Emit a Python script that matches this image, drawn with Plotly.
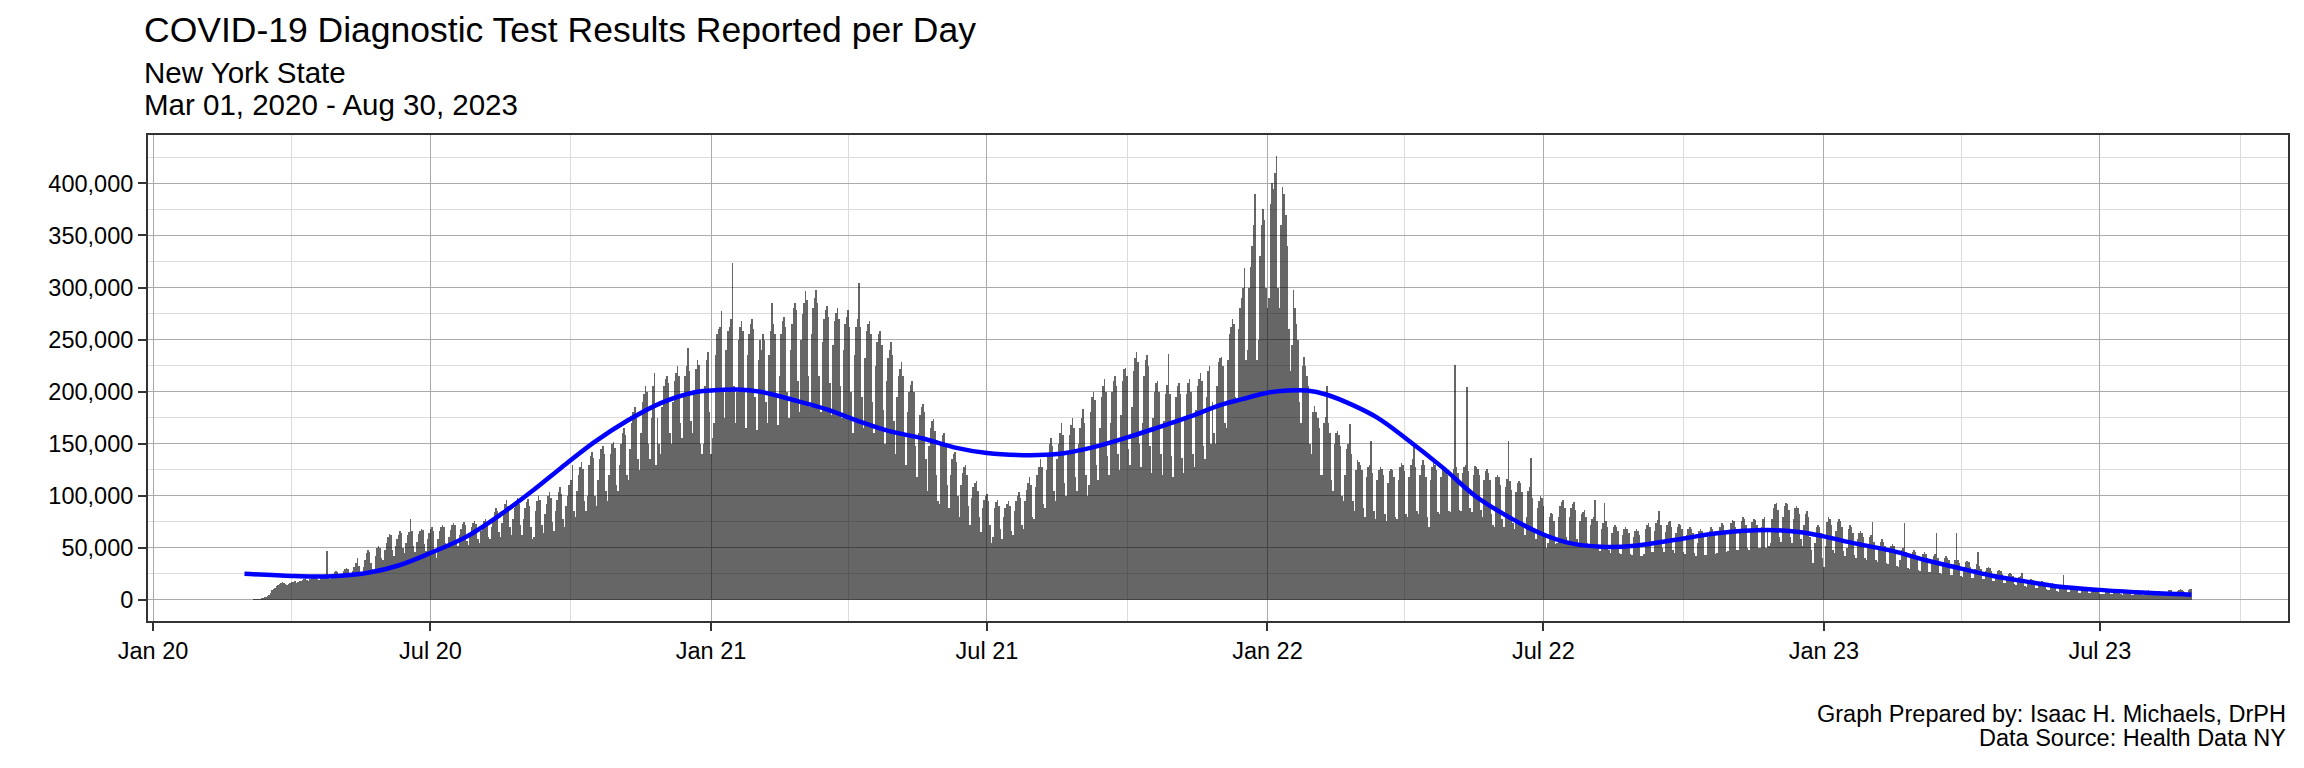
import pandas as pd
import plotly.graph_objects as go

# Daily diagnostic test results (thousands), one row per week starting Sunday Mar 01, 2020
tests_k = [
    0, 0, 0.1, 0.1, 0.2, 0.3, 0.4,
    0.5, 0.7, 0.8, 1.0, 1.5, 2, 2.5,
    3, 4, 5, 7, 9, 10, 11,
    13, 14, 15, 16, 17, 16, 15,
    14, 15, 16, 17, 17, 18, 16,
    17, 18, 18, 19, 20, 21, 19,
    18, 20, 21, 22, 23, 22, 20,
    19, 21, 22, 24, 25, 47, 21,
    20, 23, 25, 27, 28, 27, 22,
    21, 25, 28, 30, 31, 30, 24,
    23, 28, 32, 35, 40, 33, 26,
    26, 32, 38, 45, 48, 46, 35,
    30, 28, 42, 50, 52, 50, 40,
    38, 48, 55, 60, 63, 62, 48,
    42, 52, 58, 62, 66, 64, 50,
    45, 55, 62, 65, 78, 66, 52,
    46, 56, 63, 66, 68, 67, 54,
    47, 58, 64, 68, 70, 66, 45,
    40, 58, 66, 70, 72, 70, 55,
    50, 60, 67, 72, 74, 72, 56,
    52, 62, 68, 73, 75, 72, 57,
    53, 64, 70, 74, 76, 73, 58,
    55, 66, 72, 76, 78, 75, 60,
    58, 70, 78, 84, 88, 85, 65,
    60, 74, 85, 92, 96, 90, 70,
    62, 78, 88, 95, 98, 92, 72,
    62, 78, 88, 94, 97, 90, 70,
    58, 60, 85, 95, 100, 96, 72,
    64, 82, 92, 100, 104, 98, 75,
    66, 85, 96, 104, 108, 102, 78,
    70, 90, 100, 110, 115, 130, 85,
    80, 105, 120, 128, 132, 126, 95,
    85, 100, 130, 138, 142, 136, 100,
    90, 115, 135, 145, 148, 140, 105,
    95, 120, 140, 150, 152, 146, 110,
    105, 130, 150, 160, 165, 158, 120,
    115, 145, 170, 180, 185, 178, 135,
    125, 160, 190, 198, 205, 200, 150,
    135, 175, 205, 218, 130, 175, 150,
    140, 185, 205, 212, 215, 208, 160,
    150, 190, 210, 218, 225, 215, 170,
    155, 195, 215, 225, 242, 220, 172,
    160, 200, 222, 230, 226, 150, 140,
    150, 205, 230, 238, 180, 140, 155,
    170, 235, 255, 260, 262, 277, 200,
    175, 240, 258, 262, 270, 324, 205,
    170, 200, 250, 262, 268, 258, 200,
    165, 235, 255, 265, 270, 260, 195,
    163, 230, 250, 240, 255, 250, 190,
    170, 235, 258, 285, 265, 255, 195,
    168, 215, 255, 268, 272, 262, 200,
    175, 240, 265, 280, 285, 278, 210,
    180, 250, 275, 285, 297, 288, 215,
    185, 255, 280, 290, 298, 285, 215,
    180, 248, 270, 278, 282, 272, 208,
    178, 245, 268, 276, 280, 270, 205,
    175, 240, 265, 272, 278, 262, 200,
    160, 235, 262, 270, 304, 262, 195,
    165, 232, 258, 265, 268, 255, 190,
    160, 225, 248, 255, 258, 245, 182,
    150, 210, 232, 240, 248, 235, 172,
    140, 195, 215, 222, 228, 215, 160,
    130, 180, 200, 206, 210, 200, 148,
    118, 160, 178, 185, 188, 180, 135,
    105, 148, 165, 172, 174, 162, 120,
    95, 92, 150, 158, 160, 150, 110,
    88, 120, 135, 140, 142, 132, 100,
    80, 110, 122, 128, 130, 120, 90,
    72, 98, 108, 112, 114, 105, 80,
    65, 88, 96, 100, 102, 95, 72,
    55, 60, 88, 94, 96, 90, 68,
    58, 80, 88, 92, 95, 90, 66,
    62, 85, 95, 100, 104, 98, 72,
    68, 95, 106, 112, 118, 110, 80,
    78, 108, 120, 128, 135, 128, 92,
    88, 125, 140, 150, 155, 148, 105,
    95, 135, 150, 160, 170, 158, 112,
    100, 140, 158, 168, 175, 165, 118,
    105, 150, 165, 175, 183, 170, 120,
    100, 110, 180, 195, 200, 192, 130,
    115, 165, 195, 205, 212, 200, 138,
    120, 170, 200, 210, 215, 205, 140,
    125, 178, 210, 222, 223, 215, 145,
    130, 185, 220, 232, 238, 228, 150,
    128, 170, 215, 230, 235, 225, 148,
    122, 175, 200, 208, 210, 200, 140,
    120, 172, 198, 206, 236, 198, 138,
    118, 170, 195, 205, 208, 198, 136,
    122, 175, 198, 208, 212, 200, 140,
    128, 182, 205, 212, 218, 210, 148,
    135, 195, 220, 225, 150, 190, 160,
    150, 205, 228, 232, 233, 225, 170,
    165, 230, 255, 262, 270, 265, 195,
    190, 260, 280, 290, 300, 319, 230,
    240, 300, 320, 340, 360, 390, 230,
    250, 330, 360, 375, 365, 300, 280,
    290, 380, 400, 395, 410, 426, 300,
    280, 360, 397, 390, 370, 340, 260,
    220, 245, 298, 280, 265, 250, 190,
    170, 225, 233, 225, 215, 205, 150,
    140, 180, 186, 180, 175, 165, 120,
    120, 170, 176, 205, 170, 160, 115,
    105, 150, 160, 162, 158, 148, 100,
    95, 120, 145, 150, 169, 140, 95,
    85, 125, 134, 132, 130, 125, 88,
    80, 118, 128, 130, 153, 122, 85,
    78, 115, 125, 128, 126, 120, 82,
    76, 112, 124, 126, 125, 118, 80,
    78, 115, 128, 131, 130, 124, 82,
    80, 118, 130, 135, 147, 128, 85,
    82, 120, 130, 134, 130, 118, 80,
    70, 115, 128, 132, 130, 125, 84,
    82, 118, 125, 128, 126, 120, 85,
    84, 120, 126, 226, 128, 122, 86,
    85, 122, 128, 130, 204, 124, 88,
    84, 120, 129, 128, 126, 120, 86,
    80, 115, 124, 126, 122, 115, 82,
    72, 70, 118, 120, 118, 110, 78,
    70, 108, 116, 153, 114, 106, 74,
    68, 104, 112, 114, 112, 104, 72,
    62, 80, 105, 108, 136, 98, 68,
    58, 88, 95, 100, 98, 90, 62,
    50, 55, 80, 83, 82, 76, 54,
    55, 80, 90, 94, 96, 88, 60,
    56, 80, 88, 92, 94, 86, 58,
    52, 76, 82, 84, 86, 80, 55,
    50, 72, 78, 80, 96, 76, 52,
    47, 68, 74, 93, 76, 70, 48,
    45, 64, 70, 72, 70, 66, 45,
    44, 62, 68, 70, 68, 64, 44,
    43, 60, 66, 68, 66, 62, 42,
    42, 44, 68, 72, 74, 70, 46,
    46, 66, 74, 77, 85, 72, 50,
    46, 65, 72, 75, 76, 70, 48,
    45, 64, 70, 73, 72, 68, 46,
    44, 62, 68, 70, 68, 64, 45,
    42, 55, 66, 68, 66, 62, 43,
    43, 60, 66, 70, 68, 63, 44,
    45, 64, 70, 74, 72, 66, 46,
    47, 66, 74, 77, 76, 70, 48,
    48, 68, 76, 80, 78, 72, 50,
    48, 68, 75, 78, 77, 72, 50,
    50, 70, 78, 80, 50, 65, 52,
    55, 78, 88, 92, 93, 86, 60,
    56, 80, 90, 93, 92, 86, 60,
    55, 78, 88, 90, 88, 82, 58,
    52, 72, 82, 85, 80, 60, 48,
    35, 55, 70, 72, 70, 64, 40,
    32, 52, 75, 80, 78, 72, 48,
    45, 66, 75, 78, 76, 70, 47,
    42, 50, 68, 72, 70, 64, 43,
    40, 58, 64, 66, 64, 60, 40,
    38, 54, 60, 62, 75, 56, 38,
    36, 50, 56, 58, 56, 52, 35,
    34, 46, 52, 54, 52, 48, 33,
    32, 38, 48, 50, 74, 46, 31,
    30, 42, 46, 48, 46, 42, 29,
    28, 40, 44, 46, 44, 40, 27,
    27, 38, 42, 44, 64, 40, 26,
    25, 36, 40, 42, 40, 38, 24,
    24, 34, 38, 64, 38, 35, 23,
    22, 32, 36, 37, 36, 32, 21,
    21, 30, 34, 46, 33, 30, 20,
    20, 28, 31, 32, 31, 28, 18,
    18, 25, 28, 29, 28, 25, 16,
    16, 22, 25, 26, 25, 23, 15,
    14, 20, 22, 23, 26, 20, 13,
    12, 17, 19, 20, 19, 17, 11,
    11, 15, 17, 18, 17, 15, 10,
    9, 9, 15, 16, 15, 13, 8.5,
    8, 13, 14, 24, 14, 12, 7.5,
    7.5, 12, 13, 13.5, 13, 11, 7,
    7, 9, 11, 12, 11.5, 10, 6.5,
    6.5, 10, 11, 11, 10.5, 9.5, 6,
    5.5, 6, 6, 9, 10, 9, 5.5,
    5.5, 8.5, 9.5, 10, 9.5, 8.5, 5.5,
    5, 8, 9, 9.5, 9, 8, 5,
    5, 8, 8.5, 9, 8.5, 7.5, 5,
    5, 7.5, 8.5, 9, 8.5, 7.5, 4.8,
    4.8, 7.5, 8, 8.5, 8, 7.5, 4.8,
    5, 8, 9, 9.5, 9, 8, 5,
    5, 8.5, 9.5, 10, 9.5, 8.5, 5.5,
    5.5, 9, 10, 10.5,
]
start_date = "2020-03-01"

# Smoothed trend (thousands)
smooth_dates = [
    "2020-03-01", "2020-04-01", "2020-04-15", "2020-05-01", "2020-05-21", "2020-06-10",
    "2020-07-01", "2020-07-25", "2020-08-17", "2020-09-07", "2020-09-24", "2020-10-16",
    "2020-11-07", "2020-11-29", "2020-12-20", "2021-01-01", "2021-01-18", "2021-02-02",
    "2021-02-24", "2021-03-18", "2021-04-09", "2021-04-28", "2021-05-20", "2021-06-11",
    "2021-07-01", "2021-07-25", "2021-08-16", "2021-09-07", "2021-10-01", "2021-10-20",
    "2021-11-11", "2021-12-01", "2021-12-16", "2022-01-01", "2022-01-14", "2022-01-27",
    "2022-02-09", "2022-02-26", "2022-03-14", "2022-04-01", "2022-04-26", "2022-05-18",
    "2022-06-09", "2022-06-29", "2022-07-17", "2022-08-08", "2022-08-30", "2022-10-01",
    "2022-10-23", "2022-11-25", "2022-12-17", "2023-01-01", "2023-01-22", "2023-02-15",
    "2023-03-09", "2023-04-01", "2023-04-22", "2023-05-14", "2023-06-05", "2023-07-01",
    "2023-07-29", "2023-08-30",
]
smooth_k = [
    25, 23, 22.5, 23, 26, 33,
    45, 61, 83, 106, 126, 151,
    172, 189, 199, 201, 202, 200,
    192, 183, 171, 162, 155, 146,
    141, 139, 140, 146, 156, 165,
    176, 187, 193, 199, 201, 201,
    197, 187, 175, 156, 127, 99,
    79, 64, 55, 51, 52, 59,
    64, 67, 65, 61, 54, 47,
    38, 30, 23, 17.5, 12.5, 9.6,
    7, 5,
]

title = "COVID-19 Diagnostic Test Results Reported per Day"
subtitle_1 = "New York State"
subtitle_2 = "Mar 01, 2020 - Aug 30, 2023"
caption_1 = "Graph Prepared by: Isaac H. Michaels, DrPH"
caption_2 = "Data Source: Health Data NY"

dates = pd.date_range(start_date, periods=len(tests_k), freq="D")
tests = [v * 1000 for v in tests_k]
smooth = [v * 1000 for v in smooth_k]

FONT = "Liberation Sans, Arial, Helvetica, sans-serif"

fig = go.Figure()
fig.add_trace(go.Bar(x=dates, y=tests, marker=dict(color="rgba(0,0,0,0.6)", line=dict(width=0)),
                     hoverinfo="x+y"))
fig.add_trace(go.Scatter(x=pd.to_datetime(smooth_dates), y=smooth, mode="lines",
                         line=dict(color="#0000FF", width=4.5, shape="spline", smoothing=1.0)))

# page body has an 8px margin: the figure is sized/offset so the panel lands at
# x 148..2288, y 135..621 of the 2304x768 window
OFF = 8
W, H = 2304 - 2 * OFF, 768 - 2 * OFF
L, T = 148 - OFF, 135 - OFF
R = W - (2288 - OFF)
B = H - (621 - OFF)
pw, ph = W - L - R, H - T - B

def py(ypx):
    return (H - B - (ypx - OFF)) / ph

def px(xpx):
    return ((xpx - OFF) - L) / pw

fig.update_layout(
    width=W, height=H,
    margin=dict(l=L, r=R, t=T, b=B, autoexpand=False),
    paper_bgcolor="white", plot_bgcolor="white",
    showlegend=False, bargap=0.0,
    font=dict(family=FONT, color="black", size=23.5),
    xaxis=dict(
        type="date",
        range=["2019-12-28 17:00", "2023-11-01 10:00"],
        tick0="2020-01-01", dtick="M6", tickformat="%b %y",
        ticks="outside", ticklen=8, tickwidth=1.5, tickcolor="#333333",
        showgrid=True, gridcolor="#ababab", gridwidth=1,
        minor=dict(dtick="M3", tick0="2020-01-01", showgrid=True, gridcolor="#dcdcdc", gridwidth=1),
        showline=True, linecolor="#333333", linewidth=2, mirror=True,
        tickfont=dict(size=23.5, family=FONT, color="black"),
        zeroline=False,
    ),
    yaxis=dict(
        range=[-20300, 446500],
        tick0=0, dtick=50000, tickformat=",d",
        ticks="outside", ticklen=8, tickwidth=1.5, tickcolor="#333333",
        showgrid=True, gridcolor="#ababab", gridwidth=1,
        minor=dict(dtick=25000, tick0=0, showgrid=True, gridcolor="#dcdcdc", gridwidth=1),
        showline=True, linecolor="#333333", linewidth=2, mirror=True,
        tickfont=dict(size=23.5, family=FONT, color="black"),
        zeroline=False,
    ),
    annotations=[
        dict(text=title, xref="paper", yref="paper", x=px(142), y=py(30), xanchor="left", yanchor="middle",
             showarrow=False, font=dict(size=35.5, family=FONT, color="black")),
        dict(text=subtitle_1, xref="paper", yref="paper", x=px(142), y=py(72), xanchor="left", yanchor="middle",
             showarrow=False, font=dict(size=29.5, family=FONT, color="black")),
        dict(text=subtitle_2, xref="paper", yref="paper", x=px(142), y=py(105), xanchor="left", yanchor="middle",
             showarrow=False, font=dict(size=29.5, family=FONT, color="black")),
        dict(text=caption_1, xref="paper", yref="paper", x=1, y=py(714), xanchor="right", yanchor="middle",
             showarrow=False, font=dict(size=23.5, family=FONT, color="black")),
        dict(text=caption_2, xref="paper", yref="paper", x=1, y=py(738), xanchor="right", yanchor="middle",
             showarrow=False, font=dict(size=23.5, family=FONT, color="black")),
    ],
)

fig.write_html("out.html")
